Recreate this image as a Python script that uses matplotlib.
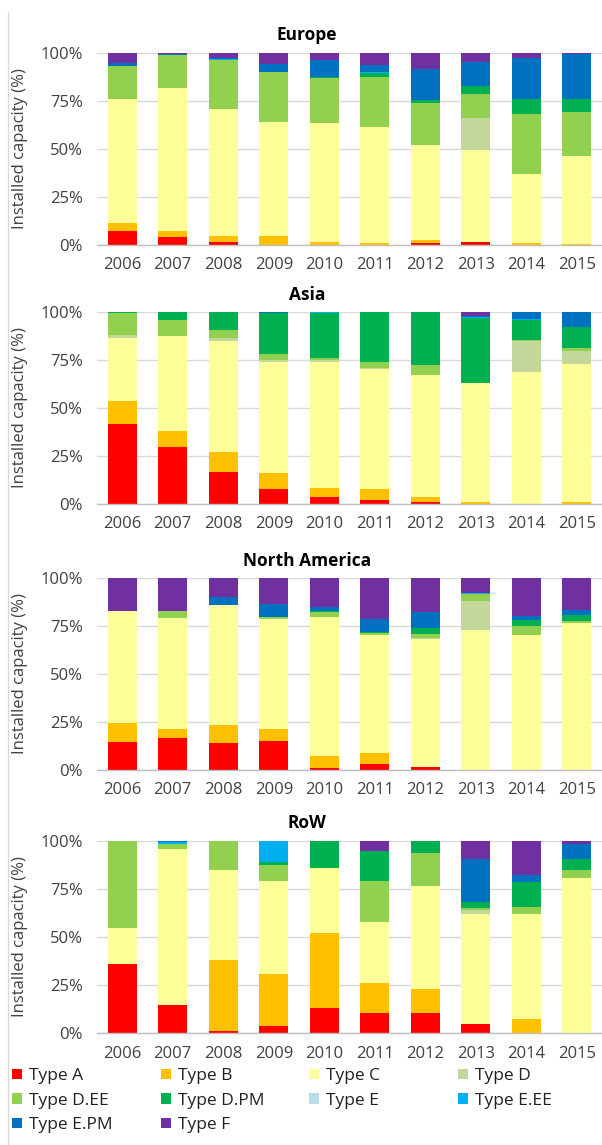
import matplotlib
matplotlib.use("Agg")
import matplotlib.pyplot as plt
from matplotlib.patches import Patch
from matplotlib.lines import Line2D
from matplotlib.ticker import FuncFormatter
import numpy as np

plt.rcParams['font.family'] = ['Open Sans', 'DejaVu Sans']

years = ["2006", "2007", "2008", "2009", "2010", "2011", "2012", "2013", "2014", "2015"]
types = ["Type A", "Type B", "Type C", "Type D", "Type D.EE", "Type D.PM",
         "Type E", "Type E.EE", "Type E.PM", "Type F"]
colors = ["#FF0000", "#FFC000", "#FFFF99", "#C4D79B", "#92D050", "#00B050",
          "#B7DEE8", "#00B0F0", "#0070C0", "#7030A0"]

# shares (%) per type, one list per type, years 2006..2015
europe = {
    "Type A":    [7.5, 4.2, 1.7, 0.0, 0.0, 0.0, 1.2, 1.4, 0.0, 0.0],
    "Type B":    [3.8, 3.1, 3.0, 4.7, 1.7, 1.2, 1.4, 0.0, 1.0, 0.3],
    "Type C":    [65.0, 74.3, 66.1, 59.6, 61.8, 60.0, 49.6, 48.2, 35.9, 46.1],
    "Type D":    [0.0, 0.0, 0.0, 0.0, 0.0, 0.0, 0.0, 16.5, 0.0, 0.0],
    "Type D.EE": [16.7, 17.4, 25.4, 25.6, 23.5, 26.1, 21.9, 12.3, 31.3, 23.0],
    "Type D.PM": [0.0, 0.0, 0.0, 0.3, 0.4, 2.3, 1.6, 4.6, 8.1, 6.9],
    "Type E":    [0.0, 0.0, 0.0, 0.0, 0.0, 0.0, 0.0, 0.0, 0.0, 0.0],
    "Type E.EE": [0.4, 0.0, 0.8, 0.0, 0.0, 0.5, 0.0, 0.0, 0.0, 0.0],
    "Type E.PM": [1.4, 0.6, 0.6, 4.1, 8.8, 3.6, 16.1, 12.1, 21.3, 23.4],
    "Type F":    [5.2, 0.4, 2.4, 5.7, 3.8, 6.3, 8.2, 4.9, 2.4, 0.3],
}
asia = {
    "Type A":    [41.7, 29.6, 16.7, 7.7, 3.8, 2.1, 0.9, 0.0, 0.0, 0.0],
    "Type B":    [12.2, 8.3, 10.4, 8.3, 4.4, 5.6, 2.9, 0.9, 0.0, 0.9],
    "Type C":    [32.4, 49.4, 57.9, 58.1, 65.9, 62.6, 63.3, 62.1, 68.7, 71.8],
    "Type D":    [1.7, 0.3, 1.4, 1.0, 0.7, 0.3, 0.3, 0.0, 16.2, 7.1],
    "Type D.EE": [11.7, 8.2, 4.4, 2.8, 1.5, 3.5, 4.8, 0.0, 0.4, 1.2],
    "Type D.PM": [0.3, 4.2, 9.2, 21.6, 23.4, 25.7, 27.6, 33.7, 10.5, 11.0],
    "Type E":    [0.0, 0.0, 0.0, 0.0, 0.0, 0.0, 0.0, 0.0, 0.0, 0.0],
    "Type E.EE": [0.0, 0.0, 0.0, 0.0, 0.3, 0.2, 0.2, 0.6, 0.5, 0.0],
    "Type E.PM": [0.0, 0.0, 0.0, 0.5, 0.0, 0.0, 0.0, 0.5, 3.7, 8.0],
    "Type F":    [0.0, 0.0, 0.0, 0.0, 0.0, 0.0, 0.0, 2.2, 0.0, 0.0],
}
north_america = {
    "Type A":    [14.4, 16.5, 13.9, 15.1, 1.2, 3.0, 1.7, 0.0, 0.0, 0.0],
    "Type B":    [10.3, 5.1, 9.6, 6.5, 6.3, 5.7, 0.0, 0.0, 0.0, 0.0],
    "Type C":    [58.3, 57.5, 62.4, 56.8, 72.3, 61.7, 66.5, 72.7, 70.1, 76.5],
    "Type D":    [0.0, 0.0, 0.0, 0.0, 0.0, 0.0, 0.7, 15.5, 0.0, 0.0],
    "Type D.EE": [0.0, 3.9, 0.0, 1.1, 2.6, 1.1, 1.9, 3.5, 4.7, 1.2],
    "Type D.PM": [0.0, 0.0, 0.0, 0.0, 0.4, 0.5, 3.3, 0.0, 3.3, 2.8],
    "Type E":    [0.0, 0.0, 0.0, 0.0, 0.0, 0.0, 0.0, 0.0, 0.0, 0.0],
    "Type E.EE": [0.0, 0.0, 0.0, 0.0, 0.0, 0.0, 0.0, 0.5, 0.0, 0.0],
    "Type E.PM": [0.0, 0.0, 4.0, 7.1, 2.1, 6.4, 8.0, 0.0, 1.9, 3.0],
    "Type F":    [17.0, 17.0, 10.1, 13.4, 15.1, 21.6, 17.9, 7.8, 20.0, 16.5],
}
row = {
    "Type A":    [35.9, 14.4, 1.0, 3.6, 13.2, 10.6, 10.6, 4.9, 0.0, 0.0],
    "Type B":    [0.0, 0.0, 37.0, 27.3, 39.1, 15.3, 12.1, 0.0, 7.3, 0.0],
    "Type C":    [18.6, 81.3, 46.7, 48.1, 33.8, 32.1, 53.9, 57.3, 54.9, 80.6],
    "Type D":    [0.0, 0.0, 0.0, 0.0, 0.0, 0.0, 0.0, 2.0, 0.0, 0.0],
    "Type D.EE": [45.5, 2.9, 15.3, 8.5, 0.0, 21.2, 17.0, 0.7, 3.4, 4.3],
    "Type D.PM": [0.0, 0.0, 0.0, 1.7, 13.9, 15.8, 6.4, 3.3, 12.9, 5.7],
    "Type E":    [0.0, 0.0, 0.0, 0.0, 0.0, 0.0, 0.0, 0.0, 0.0, 0.0],
    "Type E.EE": [0.0, 0.7, 0.0, 10.8, 0.0, 0.0, 0.0, 0.0, 0.0, 0.0],
    "Type E.PM": [0.0, 0.7, 0.0, 0.0, 0.0, 0.0, 0.0, 22.6, 3.6, 7.7],
    "Type F":    [0.0, 0.0, 0.0, 0.0, 0.0, 5.0, 0.0, 9.2, 17.9, 1.7],
}

regions = [("Europe", europe), ("Asia", asia),
           ("North America", north_america), ("RoW", row)]

W, H = 602, 1145
fig = plt.figure(figsize=(W / 100, H / 100), dpi=100)

# panel tops/bottoms in pixels
panel_px = [(53, 245), (312, 504), (578, 770), (841, 1033)]
left_px, right_px = 97, 602
title_x_px = 307

text_col = "#404040"
pct = FuncFormatter(lambda v, _: f"{int(round(v))}%")
x = np.arange(len(years))

for (title, data), (top, bot) in zip(regions, panel_px):
    ax = fig.add_axes([left_px / W, 1 - bot / H,
                       (right_px - left_px) / W, (bot - top) / H])
    bottom = np.zeros(len(years))
    for t, c in zip(types, colors):
        vals = np.array(data[t])
        ax.bar(x, vals, width=0.58, bottom=bottom, color=c, linewidth=0,
               zorder=3)
        bottom += vals
    ax.set_xlim(-0.5, len(years) - 0.5)
    ax.set_ylim(0, 100)
    ax.set_yticks([0, 25, 50, 75, 100])
    ax.yaxis.set_major_formatter(pct)
    ax.set_xticks(x)
    ax.set_xticklabels(years)
    ax.grid(axis="y", color="#D9D9D9", linewidth=1.0, zorder=0)
    for s in ("top", "right", "left"):
        ax.spines[s].set_visible(False)
    ax.spines["bottom"].set_color("#BFBFBF")
    ax.spines["bottom"].set_linewidth(1.0)
    ax.spines["bottom"].set_zorder(4)
    ax.tick_params(axis="both", length=0, labelsize=12, colors=text_col)
    ax.tick_params(axis="y", pad=10)
    ax.tick_params(axis="x", pad=9)
    ax.set_ylabel("Installed capacity (%)", fontsize=12, color=text_col,
                  labelpad=9)
    ax.set_title(title, fontsize=12.5, fontweight="bold", color="black",
                 pad=9, x=(title_x_px - left_px) / (right_px - left_px))

# frame line on the left edge
fig.add_artist(Line2D([8 / W, 8 / W], [0, 1 - 12 / H], color="#D9D9D9",
                      linewidth=1))

# legend: four columns, entries read row by row
col_x_px = [12, 161, 309, 458]
columns = [[0, 4, 8], [1, 5, 9], [2, 6], [3, 7]]
for cx, idx in zip(col_x_px, columns):
    handles = [Patch(facecolor=colors[i], edgecolor="none", label=types[i])
               for i in idx]
    fig.legend(handles=handles, loc="upper left",
               bbox_to_anchor=(cx / W, 1 - 1068 / H), ncol=1, frameon=False,
               fontsize=12.5, handlelength=0.55, handleheight=0.55,
               handletextpad=0.45, labelspacing=0.5,
               borderaxespad=0, borderpad=0, labelcolor="#202020")

fig.savefig("out.png", dpi=100)
